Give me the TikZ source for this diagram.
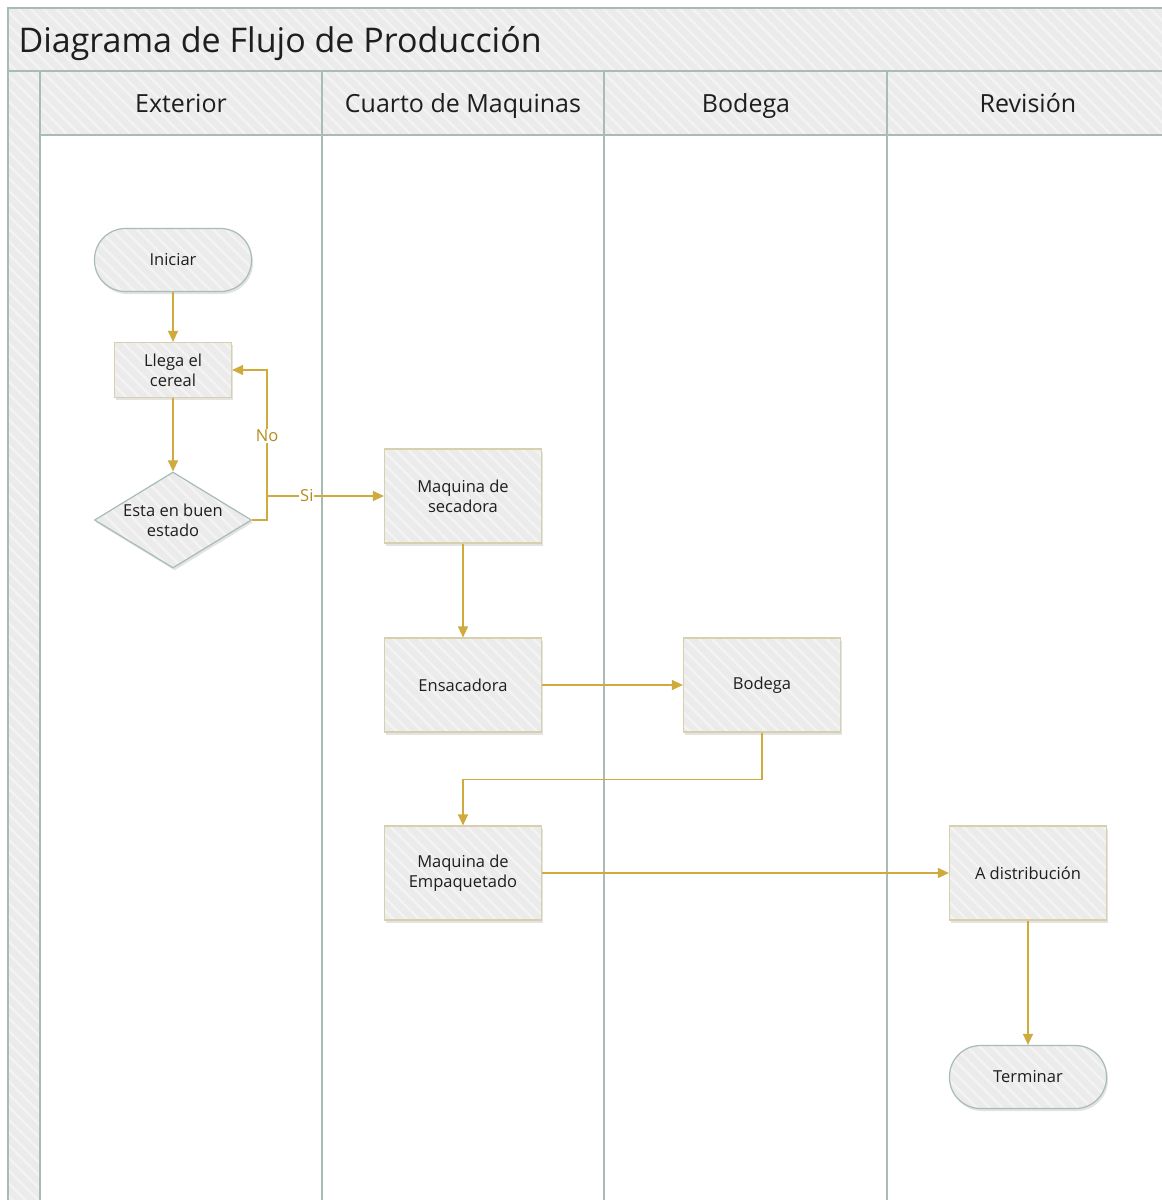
\documentclass[tikz,border=0pt]{standalone}
\usepackage{fontspec}
\setmainfont{Open Sans}
\usetikzlibrary{arrows.meta,shapes.geometric,shadows,patterns.meta}
\definecolor{lanec}{RGB}{168,188,180}
\definecolor{bandf}{RGB}{235,235,235}
\definecolor{stripe}{RGB}{243,243,243}
\definecolor{tanc}{RGB}{216,208,170}
\definecolor{gold}{RGB}{207,170,60}
\definecolor{txt}{RGB}{30,30,30}
\definecolor{lbl}{RGB}{180,140,30}
\tikzset{
  hatched/.style={preaction={fill=bandf},pattern={Lines[angle=-45,distance=9pt,line width=2.5pt]},pattern color=stripe},
  shad/.style={drop shadow={opacity=0.22,shadow xshift=1.5pt,shadow yshift=-2.5pt}},
  nodefont/.style={font=\fontsize{16.5}{20}\selectfont,text=txt},
  procbox/.style={rectangle,shad,hatched,draw=tanc,line width=1.2pt,minimum width=157pt,minimum height=94pt,align=center,nodefont,inner sep=2pt},
  smallbox/.style={procbox,minimum width=117pt,minimum height=55pt},
  termbox/.style={rectangle,rounded corners=31pt,shad,hatched,draw=lanec,line width=1.2pt,minimum width=157pt,minimum height=63pt,align=center,nodefont},
  decbox/.style={diamond,aspect=1.64,shad,hatched,draw=lanec,line width=1.2pt,minimum width=157pt,minimum height=96pt,inner sep=0pt,align=center,nodefont},
  flow/.style={draw=gold,line width=1.3pt,-{Triangle[length=11pt,width=10pt]}},
  flowlbl/.style={fill=white,text=lbl,font=\fontsize{16.5}{20}\selectfont,inner sep=1pt},
  lanehead/.style={anchor=base,font=\fontsize{25}{30}\selectfont,text=txt},
  laneline/.style={draw=lanec,line width=2pt}
}
\begin{document}
\begin{tikzpicture}[x=1pt,y=-1pt]
\useasboundingbox (0,0) rectangle (1162,1200);
\clip (0,0) rectangle (1162,1200);
\fill[white] (0,0) rectangle (1162,1200);
% bands
\path[hatched] (8,8) rectangle (1175,71);
\path[hatched] (8,71) rectangle (40,1210);
\path[hatched] (40,71) rectangle (1175,135);
% lines
\draw[laneline] (8,1210) -- (8,8) -- (1175,8);
\draw[laneline] (8,71) -- (1175,71);
\draw[laneline] (40,135) -- (1175,135);
\foreach \xx in {40,322,604,887}{\draw[laneline] (\xx,71) -- (\xx,1210);}
% titles
\node[anchor=base west,font=\fontsize{34}{40}\selectfont,text=txt] (title) at (15,52) {Diagrama de Flujo de Producción};
\node[lanehead] (hExt) at (181,112) {Exterior};
\node[lanehead] (hCua) at (463,112) {Cuarto de Maquinas};
\node[lanehead] (hBod) at (746,112) {Bodega};
\node[lanehead] (hRev) at (1028,112) {Revisión};
% nodes
\node[termbox] (ini) at (173,260) {Iniciar};
\node[smallbox] (lle) at (173,370) {Llega el\\cereal};
\node[decbox] (dec) at (173,520) {Esta en buen\\estado};
\node[procbox] (sec) at (463,496) {Maquina de\\secadora};
\node[procbox] (ens) at (463,685) {Ensacadora};
\node[procbox] (bod) at (762,685) {Bodega};
\node[procbox] (emp) at (463,873) {Maquina de\\Empaquetado};
\node[procbox] (dis) at (1028,873) {A distribución};
\node[termbox] (ter) at (1028,1077) {Terminar};
% connectors
\draw[flow] (ini) -- (lle);
\draw[flow] (lle) -- (dec);
\draw[flow] (dec.east) -- ++(15,0) |- (lle.east) node[flowlbl,pos=0.28] {No};
\draw[flow] (dec.east) -- ++(15,0) |- (sec.west) node[flowlbl,pos=0.67] {Si};
\draw[flow] (sec) -- (ens);
\draw[flow] (ens) -- (bod);
\draw[flow] (bod.south) -- ++(0,47) -| (emp.north);
\draw[flow] (emp) -- (dis);
\draw[flow] (dis) -- (ter);
\end{tikzpicture}
\end{document}
